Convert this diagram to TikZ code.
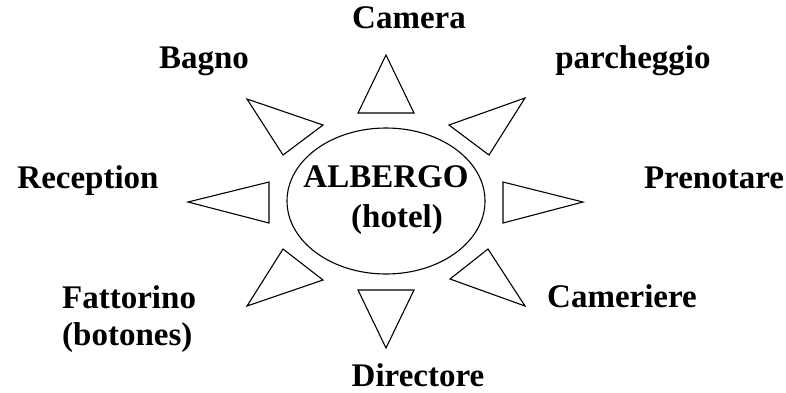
\documentclass[tikz,border=0pt]{standalone}
\usepackage{fontspec}
\setmainfont{Liberation Serif}
\usetikzlibrary{shapes.geometric}
\tikzset{
  lbl/.style={font=\fontsize{33}{39}\selectfont\bfseries, inner sep=0pt, anchor=base, text=black},
  ray/.style={draw=black, line width=1.1pt, line join=miter},
  hub/.style={draw=black, line width=1.1pt, ellipse, minimum width=198pt, minimum height=146pt, inner sep=0pt}
}
\begin{document}
\begin{tikzpicture}[x=1pt, y=-1pt]
\useasboundingbox (0,0) rectangle (786,392);
% central ellipse
\node[hub] (hub) at (386,201) {};
\node[lbl] (albergo) at (386,187) {ALBERGO};
\node[lbl] (hotel) at (397,227) {(hotel)};
% rays
\draw[ray] (386,55) -- (358,113) -- (414,113) -- cycle;
\draw[ray] (386,348) -- (358,290) -- (414,290) -- cycle;
\draw[ray] (188,202) -- (269,182) -- (269,223) -- cycle;
\draw[ray] (583,202) -- (503,182) -- (503,223) -- cycle;
\draw[ray] (247,99) -- (323,125) -- (283,155) -- cycle;
\draw[ray] (525,98) -- (449,125) -- (489,155) -- cycle;
\draw[ray] (247,306) -- (323,280) -- (283,249) -- cycle;
\draw[ray] (525,306) -- (450,279) -- (488,249) -- cycle;
% labels
\node[lbl] (camera) at (409,28) {Camera};
\node[lbl] (bagno) at (204,68) {Bagno};
\node[lbl] (parcheggio) at (633,68) {parcheggio};
\node[lbl] (reception) at (88,188) {Reception};
\node[lbl] (prenotare) at (714,188) {Prenotare};
\node[lbl, anchor=base west] (fattorino) at (62,308) {Fattorino};
\node[lbl, anchor=base west] (botones) at (62,345) {(botones)};
\node[lbl] (cameriere) at (622,307) {Cameriere};
\node[lbl] (directore) at (418,386) {Directore};
\end{tikzpicture}
\end{document}
